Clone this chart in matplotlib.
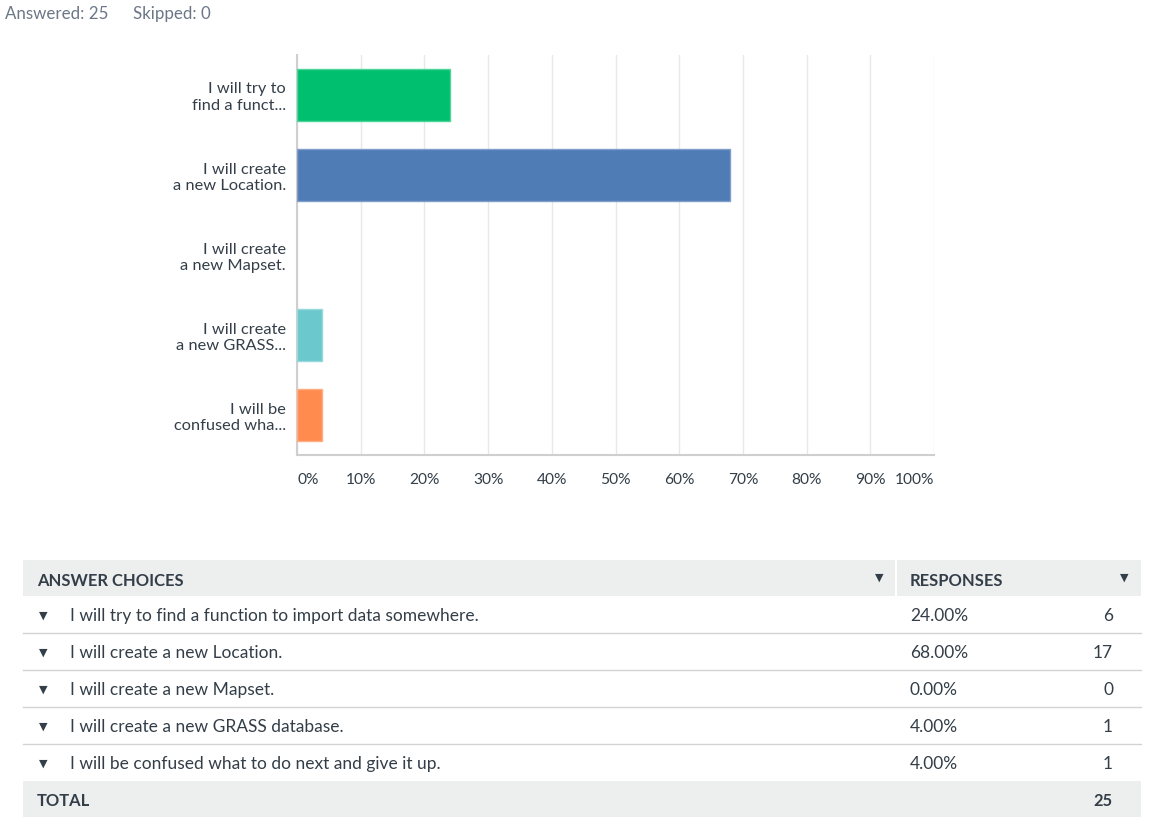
import matplotlib.pyplot as plt
from matplotlib.patches import Rectangle

plt.rcParams['font.family'] = ['Lato', 'DejaVu Sans']

W, H = 1149, 825

# --------------------------
# Data
# --------------------------
answered = 25
skipped = 0

short_labels = [
    "I will try to\nfind a funct...",
    "I will create\na new Location.",
    "I will create\na new Mapset.",
    "I will create\na new GRASS...",
    "I will be\nconfused wha...",
]
choices = [
    "I will try to find a function to import data somewhere.",
    "I will create a new Location.",
    "I will create a new Mapset.",
    "I will create a new GRASS database.",
    "I will be confused what to do next and give it up.",
]
percents = [24.0, 68.0, 0.0, 4.0, 4.0]
counts = [6, 17, 0, 1, 1]
total = 25

bar_colors = ["#00bf6f", "#507cb6", "#6bc8cd", "#6bc8cd", "#ff8b4f"]
edge_colors = ["#4dd59b", "#7f9fcb", "#97d9dc", "#97d9dc", "#ffae84"]

text_col = "#333e48"
grid_col = "#e8e8e8"
fs = 12.5

fig = plt.figure(figsize=(W / 100, H / 100), dpi=100)

# --------------------------
# Bar chart
# --------------------------
ax = fig.add_axes([297 / W, 1 - 455 / H, (934 - 297) / W, 400 / H])
ypos = range(len(percents))
ax.barh(ypos, percents, height=0.66, color=bar_colors,
        edgecolor=edge_colors, linewidth=[1 if p > 0 else 0 for p in percents],
        zorder=3)
ax.set_xlim(0, 100)
ax.set_ylim(len(percents) - 0.5, -0.5)

ax.set_xticks(range(0, 101, 10))
ax.set_xticklabels([f"{v}%" for v in range(0, 101, 10)])
ax.set_yticks(list(ypos))
ax.set_yticklabels(short_labels, linespacing=1.25)
ax.tick_params(axis="x", length=0, pad=13, labelsize=11.2, labelcolor=text_col)
ax.tick_params(axis="y", length=0, pad=8, labelsize=11.8, labelcolor=text_col)
xt = ax.get_xticklabels()
xt[0].set_ha("left")
xt[-1].set_ha("right")

ax.grid(axis="x", color=grid_col, linewidth=1, zorder=0)
for s in ["top", "right"]:
    ax.spines[s].set_visible(False)
for s in ["left", "bottom"]:
    ax.spines[s].set_color("#cfcfcf")
    ax.spines[s].set_linewidth(1.5)

# --------------------------
# Header + table (pixel coordinates)
# --------------------------
ov = fig.add_axes([0, 0, 1, 1], zorder=-1)
ov.set_xlim(0, W)
ov.set_ylim(H, 0)
ov.axis("off")

ov.text(5, 14, f"Answered: {answered}", fontsize=12.2, color="#6b7787", va="center")
ov.text(133, 14, f"Skipped: {skipped}", fontsize=12.2, color="#6b7787", va="center")

tx0, tx1, tcol = 23, 1141, 896
head_top, row_h = 560, 37
gray = "#edeeee"

# header row
ov.add_patch(Rectangle((tx0, head_top), tx1 - tx0, 36, color=gray, lw=0))
ov.plot([tcol, tcol], [head_top, head_top + 36], color="white", lw=1.5)
ov.text(37, 579, "ANSWER CHOICES", fontsize=11.9, fontweight="bold", color=text_col,
        va="center_baseline")
ov.text(910, 579, "RESPONSES", fontsize=11.9, fontweight="bold", color=text_col,
        va="center_baseline")
ov.text(879, 577, "▼", fontsize=8, color=text_col, va="center", ha="center")
ov.text(1124, 577, "▼", fontsize=8, color=text_col, va="center", ha="center")

# answer rows
for i, (c, p, n) in enumerate(zip(choices, percents, counts)):
    yc = 596 + row_h * i + row_h / 2
    ov.text(43, yc + 1, "▼", fontsize=8, color=text_col, va="center", ha="center")
    ov.text(70, yc, c, fontsize=fs, color=text_col, va="center_baseline")
    ov.text(910, yc, f"{p:.2f}%", fontsize=fs, color=text_col, va="center_baseline")
    ov.text(1113, yc, str(n), fontsize=fs, color=text_col, va="center_baseline", ha="right")
    if i < len(choices) - 1:
        yl = 596 + row_h * (i + 1)
        ov.plot([tx0, tx1], [yl, yl], color="#d3d3d3", lw=1)

# total row
tot_top = 596 + row_h * len(choices)
ov.add_patch(Rectangle((tx0, tot_top), tx1 - tx0, 36, color=gray, lw=0))
ov.text(37, tot_top + 18, "TOTAL", fontsize=11.9, fontweight="bold", color=text_col,
        va="center_baseline")
ov.text(1113, tot_top + 18, str(total), fontsize=11.9, fontweight="bold", color=text_col,
        va="center_baseline", ha="right")

fig.savefig("out.png", dpi=100)
